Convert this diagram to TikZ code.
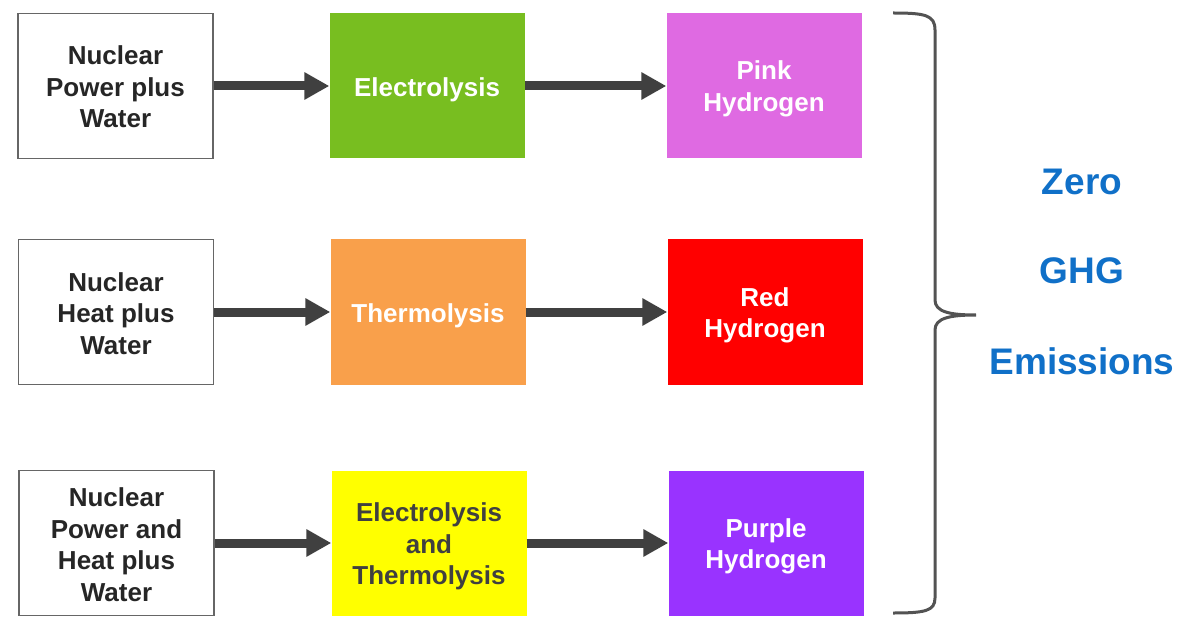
\documentclass[tikz,border=0pt]{standalone}
\usepackage{fontspec}
\setmainfont{Liberation Sans}
\usetikzlibrary{arrows.meta}
\definecolor{cgreen}{HTML}{78BE20}
\definecolor{corange}{HTML}{F9A04B}
\definecolor{cpink}{HTML}{DF6AE2}
\definecolor{cred}{HTML}{FF0000}
\definecolor{cyellow}{HTML}{FFFF00}
\definecolor{cpurple}{HTML}{9933FF}
\definecolor{cdark}{HTML}{404040}
\definecolor{cblue}{HTML}{1070C8}
\begin{document}
\begin{tikzpicture}[x=1pt,y=-1pt,
  box/.style={minimum width=195pt,minimum height=145pt,inner sep=0pt},
  srcbox/.style={box,draw=cdark!80,line width=1.2pt,fill=white},
  txt/.style={inner sep=0pt,align=center,font=\bfseries\fontsize{26}{31.5}\selectfont},
  srctxt/.style={txt,text=black!85},
  wtxt/.style={txt,text=white},
  flow/.style={draw=cdark,line width=9pt,-{Triangle[length=25pt,width=26pt]}},
  bracestyle/.style={draw=cdark!90,line width=3pt},
  bigtext/.style={text=cblue,font=\bfseries\fontsize{37}{44}\selectfont,inner sep=0pt}]
\useasboundingbox (0,0) rectangle (1189,631);
% row 1
\node[srcbox] (s1) at (115.5,86) {};
\node[box,fill=cgreen] (p1) at (427,86) {};
\node[box,fill=cpink] (h1) at (764,86) {};
% row 2
\node[srcbox] (s2) at (116,312) {};
\node[box,fill=corange] (p2) at (428,312) {};
\node[box,fill=cred] (h2) at (765,312) {};
% row 3
\node[srcbox] (s3) at (116.5,543) {};
\node[box,fill=cyellow] (p3) at (429,543) {};
\node[box,fill=cpurple] (h3) at (766,543) {};
% texts
\node[srctxt] (s1t) at ([yshift=-1pt]s1.center) {Nuclear\\Power plus\\Water};
\node[wtxt] (p1t) at ([yshift=-3.5pt]p1.center) {Electrolysis};
\node[wtxt] (h1t) at ([yshift=-3pt]h1.center) {Pink\\Hydrogen};
\node[srctxt] (s2t) at ([yshift=-1.5pt]s2.center) {Nuclear\\Heat plus\\Water};
\node[wtxt] (p2t) at ([yshift=-3.5pt]p2.center) {Thermolysis};
\node[wtxt] (h2t) at ([yshift=-3.5pt]h2.center) {Red\\Hydrogen};
\node[srctxt] (s3t) at ([yshift=-1.5pt]s3.center) {Nuclear\\Power and\\Heat plus\\Water};
\node[txt,text=cdark] (p3t) at ([yshift=-3.5pt]p3.center) {Electrolysis\\and\\Thermolysis};
\node[wtxt] (h3t) at ([yshift=-3.5pt]h3.center) {Purple\\Hydrogen};
% arrows
\foreach \a/\b in {s1/p1,p1/h1,s2/p2,p2/h2,s3/p3,p3/h3}
  \draw[flow] (\a.east) -- (\b.west);
% brace
\coordinate (bt) at (893,13);
\coordinate (bb) at (893,613);
\coordinate (tip) at (976,315);
\draw[bracestyle] (bt) .. controls (925,13) and (935,15) .. (935,30)
  -- (935,300) .. controls (935,312) and (950,315) .. (tip)
  .. controls (950,315) and (935,318) .. (935,330)
  -- (935,598) .. controls (935,611) and (925,613) .. (bb);
% text
\node[bigtext] (z1) at (1082,182) {Zero};
\node[bigtext] (z2) at (1082,271) {GHG};
\node[bigtext] (z3) at (1082,361) {Emissions};
\end{tikzpicture}
\end{document}
